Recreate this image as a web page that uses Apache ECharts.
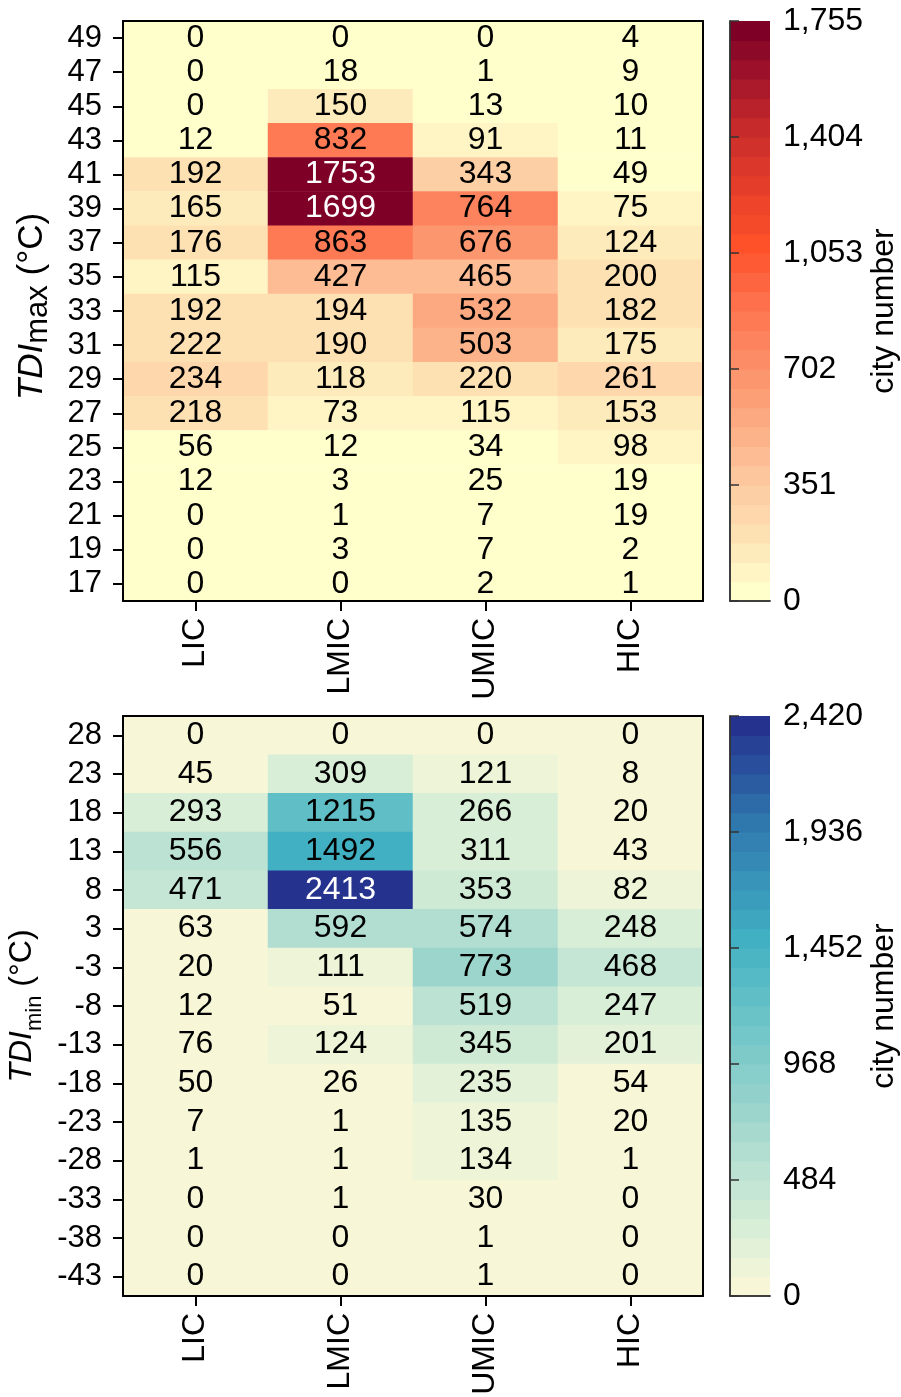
<!DOCTYPE html>
<html><head><meta charset="utf-8">
<script src="https://cdn.jsdelivr.net/npm/echarts@6/dist/echarts.min.js"></script>
<style>html,body{margin:0;padding:0;background:#fff}#c{width:901px;height:1397px}</style>
</head><body><div id="c"></div>
<script>
// ---------- DATA ----------
const incomeGroups = ['LIC', 'LMIC', 'UMIC', 'HIC'];

// TDImax rows, listed top to bottom
const tdiMaxRows = ['49','47','45','43','41','39','37','35','33','31','29','27','25','23','21','19','17'];
const maxLIC  = [0, 0, 0, 12, 192, 165, 176, 115, 192, 222, 234, 218, 56, 12, 0, 0, 0];
const maxLMIC = [0, 18, 150, 832, 1753, 1699, 863, 427, 194, 190, 118, 73, 12, 3, 1, 3, 0];
const maxUMIC = [0, 1, 13, 91, 343, 764, 676, 465, 532, 503, 220, 115, 34, 25, 7, 7, 2];
const maxHIC  = [4, 9, 10, 11, 49, 75, 124, 200, 182, 175, 261, 153, 98, 19, 19, 2, 1];
const maxColorbarTicks = [0, 351, 702, 1053, 1404, 1755];

// TDImin rows, listed top to bottom
const tdiMinRows = ['28','23','18','13','8','3','-3','-8','-13','-18','-23','-28','-33','-38','-43'];
const minLIC  = [0, 45, 293, 556, 471, 63, 20, 12, 76, 50, 7, 1, 0, 0, 0];
const minLMIC = [0, 309, 1215, 1492, 2413, 592, 111, 51, 124, 26, 1, 1, 1, 0, 0];
const minUMIC = [0, 121, 266, 311, 353, 574, 773, 519, 345, 235, 135, 134, 30, 1, 1];
const minHIC  = [0, 8, 20, 43, 82, 248, 468, 247, 201, 54, 20, 1, 0, 0, 0];
const minColorbarTicks = [0, 484, 968, 1452, 1936, 2420];

const colorbarLevels = 30;

// ---------- STYLE ----------
const FONT = "'Liberation Sans', Arial, sans-serif";
const redStops = [[0,'#ffffcc'],[0.1,'#fee2b4'],[0.2,'#fdc89e'],[0.3,'#fcac84'],[0.4,'#fc9068'],
  [0.5,'#fd7551'],[0.62,'#fe5029'],[0.75,'#de392b'],[0.84,'#c2282b'],[1,'#7f0027']];
const blueStops = [[0,'#f7f7d8'],[0.1,'#d9eed6'],[0.24,'#b2ded2'],[0.31,'#9cd5cc'],[0.52,'#5fbfc6'],
  [0.62,'#41b0c3'],[0.83,'#2f77ae'],[1,'#25338f']];

function hex2rgb(h){return [1,3,5].map(i=>parseInt(h.substr(i,2),16));}
function cmap(stops, t){
  for (let k=1;k<stops.length;k++){
    if (t <= stops[k][0]){
      const [t0,c0]=stops[k-1],[t1,c1]=stops[k];
      const f=(t-t0)/(t1-t0), a=hex2rgb(c0), b=hex2rgb(c1);
      return 'rgb('+a.map((v,i)=>Math.round(v+(b[i]-v)*f)).join(',')+')';
    }
  }
  return stops[stops.length-1][1];
}
function bandColors(stops){
  const out=[]; for(let i=0;i<colorbarLevels;i++) out.push(cmap(stops, i/(colorbarLevels-1))); return out;
}
const redBands = bandColors(redStops);
const blueBands = bandColors(blueStops);

function heatData(cols, max){
  const d=[];
  cols.forEach((col,ci)=>col.forEach((v,ri)=>{
    const item={value:[ci,ri,v]};
    if (v >= 0.85*max) item.label={color:'#fff'};
    d.push(item);
  }));
  return d;
}
function pieces(max, colors){
  const step=max/colorbarLevels, p=[];
  for(let i=0;i<colorbarLevels;i++){
    const pc={gte:i*step, color:colors[i]};
    if(i<colorbarLevels-1) pc.lt=(i+1)*step; else pc.lte=max*10;
    p.push(pc);
  }
  return p;
}
function bandData(max){
  const step=max/colorbarLevels, d=[];
  for(let i=0;i<colorbarLevels;i++) d.push([i*step,(i+1)*step,i]);
  return d;
}

const lineBlack = {show:true, lineStyle:{color:'#000', width:2}};
const lineCb = {show:true, lineStyle:{color:'#333', width:1.5}};
const tickLbl = {fontFamily:FONT, fontSize:31, color:'#000'};

function heatX(gi, pos, labels){
  return {type:'category', gridIndex:gi, data:incomeGroups, position:pos, z:10,
    axisLine:lineBlack,
    axisTick:{show:labels, alignWithLabel:true, length:10, interval:0, lineStyle:{color:'#000', width:2}},
    axisLabel:Object.assign({show:labels, rotate:90, margin:17, interval:0}, tickLbl, {fontSize:32}),
    splitLine:{show:false}};
}
function heatY(gi, pos, rows, labels, title){
  const a={type:'category', gridIndex:gi, data:rows, inverse:true, position:pos, z:10,
    axisLine:lineBlack,
    axisTick:{show:labels, alignWithLabel:true, length:10, interval:0, lineStyle:{color:'#000', width:2}},
    axisLabel:Object.assign({show:labels, margin:21, interval:0}, tickLbl),
    splitLine:{show:false}};
  if (title){
    a.name=title.text; a.nameLocation='middle'; a.nameRotate=90; a.nameGap=title.gap;
    a.nameTextStyle={fontFamily:FONT, color:'#000', padding:[0,0,0,title.shift], rich:{
      i:{fontFamily:FONT, fontSize:title.main, fontStyle:'italic', lineHeight:title.lh, verticalAlign:'middle', color:'#000'},
      s:{fontFamily:FONT, fontSize:title.sub, lineHeight:title.sub, verticalAlign:'bottom', color:'#000'},
      n:{fontFamily:FONT, fontSize:title.main, lineHeight:title.lh, verticalAlign:'middle', color:'#000'}}};
  }
  return a;
}
function cbX(gi, pos){
  return {type:'value', gridIndex:gi, min:0, max:1, position:pos, z:10, axisLine:lineCb,
    axisTick:{show:false}, axisLabel:{show:false}, splitLine:{show:false}};
}
function cbY(gi, pos, ticks, labels){
  return {type:'value', gridIndex:gi, min:ticks[0], max:ticks[ticks.length-1], interval:ticks[1]-ticks[0],
    position:pos, z:10, axisLine:lineCb,
    axisTick:{show:labels, length:9, lineStyle:{color:'#333', width:1.5}},
    axisLabel:Object.assign({show:labels, margin:13, formatter:v=>v.toLocaleString('en-US')}, tickLbl, {fontSize:32}),
    splitLine:{show:false},
    name: labels ? 'city number' : '', nameLocation:'middle', nameRotate:90, nameGap:98,
    nameTextStyle:{fontFamily:FONT, fontSize:32, color:'#000'}};
}
function cbSeries(xi, max, colors){
  return {type:'custom', xAxisIndex:xi, yAxisIndex:xi, data:bandData(max), silent:true, clip:false,
    renderItem:(params, api)=>{
      const lo=api.value(0), hi=api.value(1), idx=api.value(2);
      const p0=api.coord([0,hi]), p1=api.coord([1,lo]);
      return {type:'rect', shape:{x:p0[0], y:p0[1], width:p1[0]-p0[0], height:p1[1]-p0[1]+0.6},
        style:{fill:colors[idx]}};
    }};
}
function heatSeries(xi, data){
  return {type:'heatmap', xAxisIndex:xi, yAxisIndex:xi, data:data,
    label:{show:true, fontFamily:FONT, fontSize:32, color:'#000', formatter:p=>String(p.value[2])},
    itemStyle:{borderWidth:0}, emphasis:{disabled:true}, progressive:0};
}

const maxTop = maxColorbarTicks[maxColorbarTicks.length-1];
const minTop = minColorbarTicks[minColorbarTicks.length-1];

const gridBase = {outerBoundsMode:'none', containLabel:false};
const chart = echarts.init(document.getElementById('c'), null, {renderer:'canvas'});
chart.setOption({
  backgroundColor:'#fff',
  animation:false,
  textStyle:{fontFamily:FONT},
  grid:[
    Object.assign({left:123, top:21, width:580, height:580}, gridBase),
    Object.assign({left:730, top:21, width:40, height:580}, gridBase),
    Object.assign({left:123, top:716, width:580, height:580}, gridBase),
    Object.assign({left:730, top:716, width:40, height:580}, gridBase)
  ],
  xAxis:[
    heatX(0,'bottom',true), heatX(0,'top',false),
    cbX(1,'bottom'), cbX(1,'top'),
    heatX(2,'bottom',true), heatX(2,'top',false),
    cbX(3,'bottom'), cbX(3,'top')
  ],
  yAxis:[
    heatY(0,'left',tdiMaxRows,true,{text:'{i|TDI}{s|max}{n| (°C)}', main:35, sub:31, lh:44, gap:69, shift:9}),
    heatY(0,'right',tdiMaxRows,false),
    cbY(1,'right',maxColorbarTicks,true), cbY(1,'left',maxColorbarTicks,false),
    heatY(2,'left',tdiMinRows,true,{text:'{i|TDI}{s|min}{n| (°C)}', main:32, sub:22, lh:48, gap:76, shift:0}),
    heatY(2,'right',tdiMinRows,false),
    cbY(3,'right',minColorbarTicks,true), cbY(3,'left',minColorbarTicks,false)
  ],
  visualMap:[
    {type:'piecewise', show:false, seriesIndex:0, dimension:2, pieces:pieces(maxTop, redBands)},
    {type:'piecewise', show:false, seriesIndex:2, dimension:2, pieces:pieces(minTop, blueBands)}
  ],
  series:[
    heatSeries(0, heatData([maxLIC,maxLMIC,maxUMIC,maxHIC], maxTop)),
    cbSeries(2, maxTop, redBands),
    heatSeries(4, heatData([minLIC,minLMIC,minUMIC,minHIC], minTop)),
    cbSeries(6, minTop, blueBands)
  ]
});
</script></body></html>
